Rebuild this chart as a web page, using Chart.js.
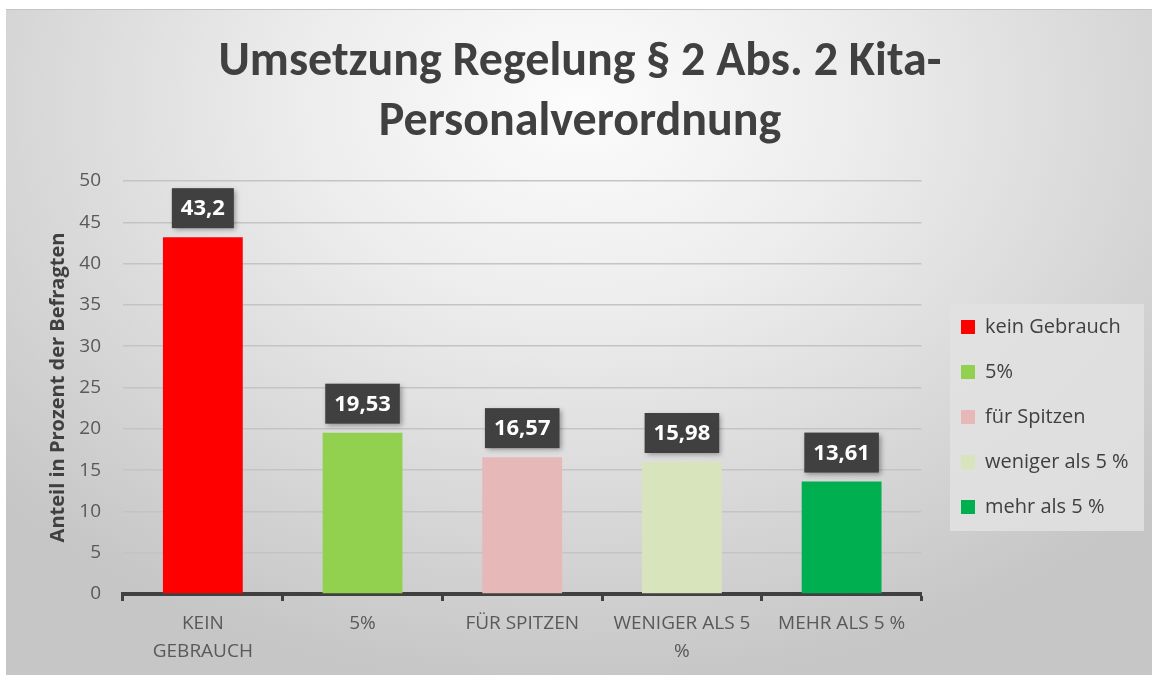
<!DOCTYPE html>
<html>
<head>
<meta charset="utf-8">
<script src="https://cdn.jsdelivr.net/npm/chart.js@4"></script>
<style>
  html, body { margin: 0; padding: 0; background: #fff; }
  #wrap {
    position: absolute; left: 6px; top: 9px; width: 1146px; height: 666px;
    border-top: 1px solid #c4c4c4; box-sizing: border-box;
    background: radial-gradient(ellipse 68% 88% at 50% 14%, #fcfcfc 0%, #ededed 35%, #dbdbdb 65%, #c6c6c6 100%);
  }
  canvas { display: block; }
</style>
</head>
<body>
<div id="wrap"><canvas id="chart" width="1146" height="665"></canvas></div>
<script>
// data
const categories = ['kein Gebrauch', '5%', 'für Spitzen', 'weniger als 5 %', 'mehr als 5 %'];
const tickLabels = [['KEIN', 'GEBRAUCH'], '5%', 'FÜR SPITZEN', ['WENIGER ALS 5', '%'], 'MEHR ALS 5 %'];
const values = [43.2, 19.53, 16.57, 15.98, 13.61];
const valueText = ['43,2', '19,53', '16,57', '15,98', '13,61'];
const barColors = ['#ff0000', '#92d050', '#e6b8b7', '#d8e4bc', '#00b050'];

const textColor = '#595959';
const darkColor = '#404040';

// dark boxes with the value above each bar
const valueBoxes = {
    id: 'valueBoxes',
    afterDatasetsDraw(chart) {
        const ctx = chart.ctx;
        const meta = chart.getDatasetMeta(0);
        ctx.save();
        ctx.font = 'bold 22px "Open Sans", sans-serif';
        meta.data.forEach((bar, i) => {
            const txt = valueText[i];
            const w = ctx.measureText(txt).width + 18;
            const h = 40;
            const x = bar.x - w / 2;
            const y = bar.y - 9 - h;
            ctx.shadowColor = 'rgba(0,0,0,0.35)';
            ctx.shadowBlur = 5;
            ctx.shadowOffsetX = 2;
            ctx.shadowOffsetY = 2;
            ctx.fillStyle = darkColor;
            ctx.fillRect(x, y, w, h);
            ctx.shadowColor = 'transparent';
            ctx.fillStyle = '#ffffff';
            ctx.textAlign = 'center';
            ctx.textBaseline = 'middle';
            ctx.fillText(txt, bar.x, y + h / 2 + 1);
        });
        ctx.restore();
    }
};

// grey panel behind the legend, legend moved into it
const legendPanel = {
    id: 'legendPanel',
    afterLayout(chart) {
        const lg = chart.legend;
        lg.left = 930;
        lg.right = lg.left + lg.width;
        lg.top = 282;
        lg.bottom = lg.top + 400;
    },
    beforeDraw(chart) {
        const ctx = chart.ctx;
        ctx.save();
        ctx.fillStyle = 'rgba(226,226,226,0.85)';
        ctx.fillRect(944, 294, 194, 227);
        ctx.restore();
    }
};

new Chart(document.getElementById('chart'), {
    type: 'bar',
    data: {
        labels: tickLabels,
        datasets: [{
            data: values,
            backgroundColor: barColors,
            borderWidth: 0,
            barPercentage: 0.5,
            categoryPercentage: 1
        }]
    },
    options: {
        responsive: false,
        animation: false,
        layout: { padding: { top: 6, right: 28, bottom: 1, left: 30 } },
        plugins: {
            title: {
                display: true,
                text: ['Umsetzung Regelung § 2 Abs. 2 Kita-', 'Personalverordnung'],
                color: darkColor,
                font: { family: 'Carlito, Lato, "Open Sans", sans-serif', size: 48, weight: 'bold', lineHeight: 1.25 },
                padding: { top: 17, bottom: 28 }
            },
            legend: {
                position: 'right',
                align: 'start',
                labels: {
                    color: darkColor,
                    font: { family: '"Open Sans", sans-serif', size: 20 },
                    boxWidth: 14,
                    boxHeight: 14,
                    padding: 25,
                    generateLabels: () => categories.map((c, i) => ({
                        text: c,
                        fillStyle: barColors[i],
                        strokeStyle: barColors[i],
                        lineWidth: 0,
                        fontColor: darkColor,
                        index: i
                    }))
                }
            },
            tooltip: { enabled: false }
        },
        scales: {
            x: {
                grid: {
                    display: true,
                    drawOnChartArea: false,
                    drawTicks: true,
                    tickLength: 7,
                    tickWidth: 3,
                    tickColor: darkColor
                },
                border: { display: true, color: darkColor, width: 4 },
                ticks: {
                    color: textColor,
                    font: { family: '"Open Sans", sans-serif', size: 19, lineHeight: 1.5 },
                    maxRotation: 0,
                    autoSkip: false,
                    padding: 8
                }
            },
            y: {
                min: 0,
                max: 50,
                afterFit(scale) { scale.width = 87; },
                ticks: {
                    stepSize: 5,
                    color: textColor,
                    font: { family: '"Open Sans", sans-serif', size: 19 },
                    padding: 22
                },
                grid: { color: '#c4c4c4', lineWidth: 1.5, drawTicks: false },
                border: { display: false },
                title: {
                    display: true,
                    text: 'Anteil in Prozent der Befragten',
                    color: darkColor,
                    font: { family: '"Open Sans", sans-serif', size: 20, weight: 'bold' },
                    padding: { top: 10, bottom: 10 }
                }
            }
        }
    },
    plugins: [legendPanel, valueBoxes]
});
</script>
</body>
</html>
